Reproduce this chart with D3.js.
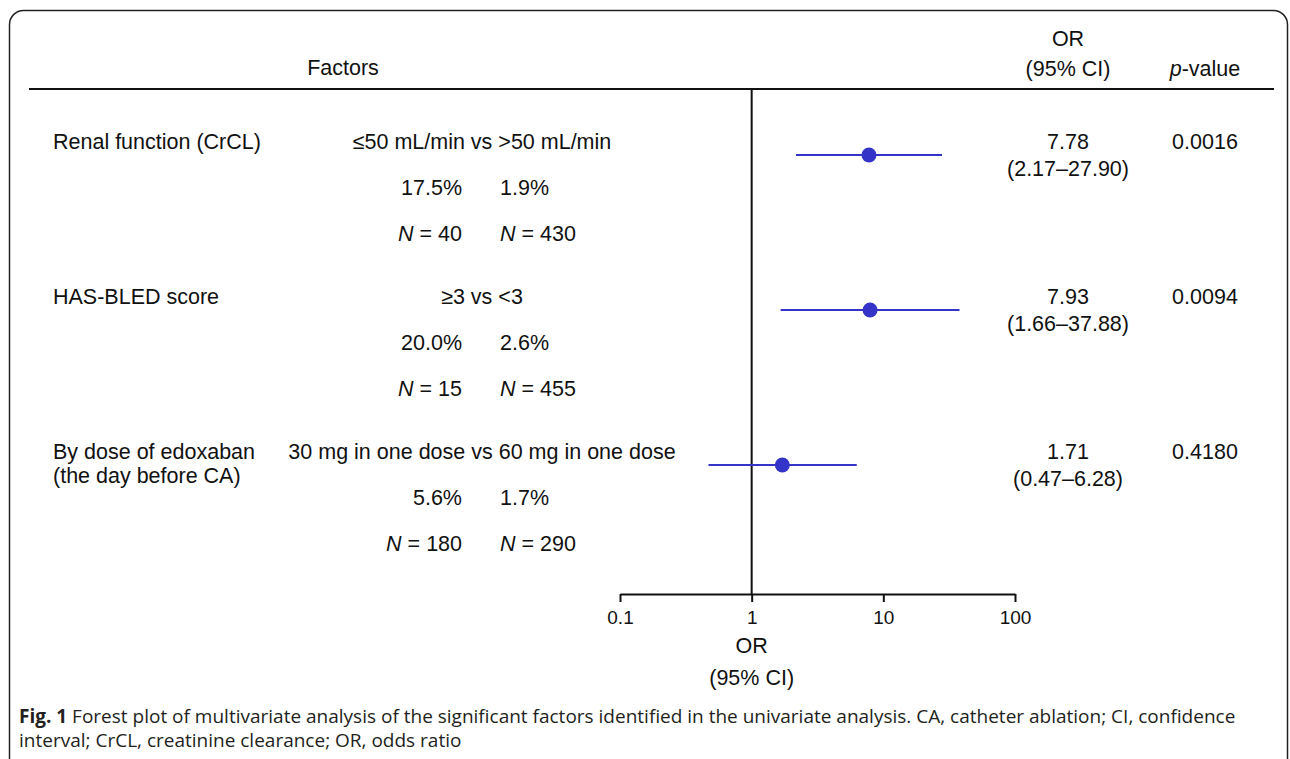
<!DOCTYPE html>
<html>
<head>
<meta charset="utf-8">
<script src="https://cdn.jsdelivr.net/npm/d3@7"></script>
<style>
  html, body { margin: 0; padding: 0; background: #fff; }
  svg text { font-family: "Liberation Sans", Arial, sans-serif; fill: #111; }
  .caption { font-family: "Open Sans", "Noto Sans", sans-serif; fill: #231f20; }
</style>
</head>
<body>
<svg id="chart" width="1290" height="759"></svg>
<script>
// rows of the forest plot
var factors = [["Renal function (CrCL)"], ["HAS-BLED score"], ["By dose of edoxaban", "(the day before CA)"]];
var comparisons = ["≤50 mL/min vs >50 mL/min", "≥3 vs <3", "30 mg in one dose vs 60 mg in one dose"];
var pctA = ["17.5%", "20.0%", "5.6%"];
var pctB = ["1.9%", "2.6%", "1.7%"];
var nA = [40, 15, 180];
var nB = [430, 455, 290];
var orValues = [7.78, 7.93, 1.71];
var ciLow = [2.17, 1.66, 0.47];
var ciHigh = [27.90, 37.88, 6.28];
var pValues = ["0.0016", "0.0094", "0.4180"];
var tickValues = [0.1, 1, 10, 100];
var tickLabels = ["0.1", "1", "10", "100"];

var svg = d3.select("#chart");
var blue = "#3434c8";
var fs = 21.5;

// frame
svg.append("rect")
    .attr("x", 9.5).attr("y", 10.5)
    .attr("width", 1278).attr("height", 820)
    .attr("rx", 14)
    .style("fill", "none").style("stroke", "#222").style("stroke-width", 1.5);

// header
svg.append("text").attr("x", 343).attr("y", 75).attr("text-anchor", "middle")
    .style("font-size", fs + "px").text("Factors");
svg.append("text").attr("x", 1068).attr("y", 46).attr("text-anchor", "middle")
    .style("font-size", fs + "px").text("OR");
svg.append("text").attr("x", 1068).attr("y", 76).attr("text-anchor", "middle")
    .style("font-size", fs + "px").text("(95% CI)");
var pv = svg.append("text").attr("x", 1205).attr("y", 76).attr("text-anchor", "middle")
    .style("font-size", fs + "px");
pv.append("tspan").style("font-style", "italic").text("p");
pv.append("tspan").text("-value");

svg.append("line")
    .attr("x1", 29).attr("x2", 1274).attr("y1", 89).attr("y2", 89)
    .style("stroke", "#111").style("stroke-width", 2);

// scales
var x = d3.scaleLog().domain([0.1, 100]).range([620, 1015]);
var y = d3.scalePoint().domain(d3.range(factors.length)).range([155, 465]);
var axisY = 594;

// reference line at OR = 1
svg.append("line")
    .attr("x1", x(1)).attr("x2", x(1)).attr("y1", 89).attr("y2", axisY)
    .style("stroke", "#111").style("stroke-width", 2);

// axis
var axis = svg.append("g")
    .attr("transform", "translate(0," + axisY + ")")
    .call(d3.axisBottom(x).tickValues(tickValues)
        .tickFormat(function(d, i) { return tickLabels[i]; })
        .tickSize(8).tickSizeOuter(0).tickPadding(9));
axis.select(".domain").style("stroke", "#111").style("stroke-width", 2);
axis.selectAll(".tick line").style("stroke", "#111").style("stroke-width", 2);
axis.selectAll(".tick text").style("font-size", "19px")
    .style("font-family", "Liberation Sans, Arial, sans-serif").style("fill", "#111");

svg.append("text").attr("x", x(1)).attr("y", 653).attr("text-anchor", "middle")
    .style("font-size", fs + "px").text("OR");
svg.append("text").attr("x", x(1)).attr("y", 685).attr("text-anchor", "middle")
    .style("font-size", fs + "px").text("(95% CI)");

// rows
var rows = svg.selectAll("g.row")
    .data(d3.range(factors.length))
    .join("g")
    .attr("class", "row")
    .attr("transform", function(i) { return "translate(0," + y(i) + ")"; });

rows.each(function(i) {
    var g = d3.select(this);
    factors[i].forEach(function(line, k) {
        g.append("text").attr("x", 53).attr("y", -6 + k * 24)
            .style("font-size", fs + "px").text(line);
    });
    g.append("text").attr("x", 482).attr("y", -6).attr("text-anchor", "middle")
        .style("font-size", fs + "px").text(comparisons[i]);
    g.append("text").attr("x", 462).attr("y", 40).attr("text-anchor", "end")
        .style("font-size", fs + "px").text(pctA[i]);
    g.append("text").attr("x", 500).attr("y", 40)
        .style("font-size", fs + "px").text(pctB[i]);

    var ta = g.append("text").attr("x", 462).attr("y", 86).attr("text-anchor", "end")
        .style("font-size", fs + "px");
    ta.append("tspan").style("font-style", "italic").text("N");
    ta.append("tspan").text(" = " + nA[i]);
    var tb = g.append("text").attr("x", 500).attr("y", 86)
        .style("font-size", fs + "px");
    tb.append("tspan").style("font-style", "italic").text("N");
    tb.append("tspan").text(" = " + nB[i]);

    // CI and point
    g.append("line")
        .attr("x1", x(ciLow[i])).attr("x2", x(ciHigh[i]))
        .attr("y1", 0).attr("y2", 0)
        .style("stroke", blue).style("stroke-width", 2);
    g.append("circle")
        .attr("cx", x(orValues[i])).attr("cy", 0).attr("r", 7.5)
        .style("fill", blue);

    g.append("text").attr("x", 1068).attr("y", -6).attr("text-anchor", "middle")
        .style("font-size", fs + "px").text(orValues[i].toFixed(2));
    g.append("text").attr("x", 1068).attr("y", 21).attr("text-anchor", "middle")
        .style("font-size", fs + "px")
        .text("(" + ciLow[i].toFixed(2) + "–" + ciHigh[i].toFixed(2) + ")");
    g.append("text").attr("x", 1205).attr("y", -6).attr("text-anchor", "middle")
        .style("font-size", fs + "px").text(pValues[i]);
});

// caption
var cap = svg.append("text").attr("class", "caption")
    .attr("x", 19).attr("y", 723).style("font-size", "19px");
cap.append("tspan").style("font-weight", "bold").text("Fig. 1");
cap.append("tspan").text(" Forest plot of multivariate analysis of the significant factors identified in the univariate analysis. CA, catheter ablation; CI, confidence");
svg.append("text").attr("class", "caption")
    .attr("x", 19).attr("y", 747).style("font-size", "19px")
    .text("interval; CrCL, creatinine clearance; OR, odds ratio");
</script>
</body>
</html>
